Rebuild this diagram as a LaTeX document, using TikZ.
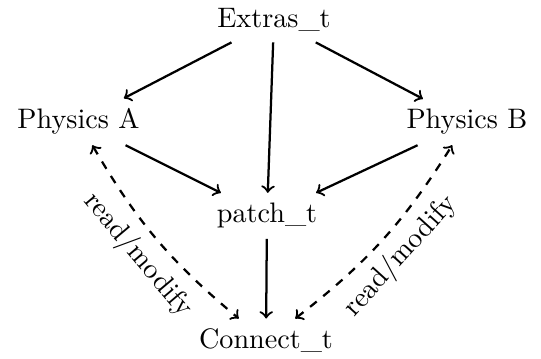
\documentclass[tikz,border=0pt]{standalone}
\begin{document}
\begin{tikzpicture}[
  thick,
  box/.style={anchor=base},
  flow/.style={->},
  rw/.style={<->,dashed,bend right=10}
]
\useasboundingbox (0,0) rectangle (6.746,4.476);
\node[box] (ex) at (3.416,4.127) {Extras\_t};
\node[box] (pa) at (0.979,2.868) {Physics A};
\node[box] (pb) at (5.823,2.868) {Physics B};
\node[box] (pt) at (3.329,1.696) {patch\_t};
\node[box] (ct) at (3.317,0.125) {Connect\_t};
\draw[flow] (ex) -- (pa);
\draw[flow] (ex) -- (pb);
\draw[flow] (ex) -- (pt);
\draw[flow] (pa) -- (pt);
\draw[flow] (pb) -- (pt);
\draw[flow] (pt) -- (ct);
\draw[rw] (pa) to node[sloped,below] {read/modify} (ct);
\draw[rw] (ct) to node[sloped,below] {read/modify} (pb);
\end{tikzpicture}
\end{document}
